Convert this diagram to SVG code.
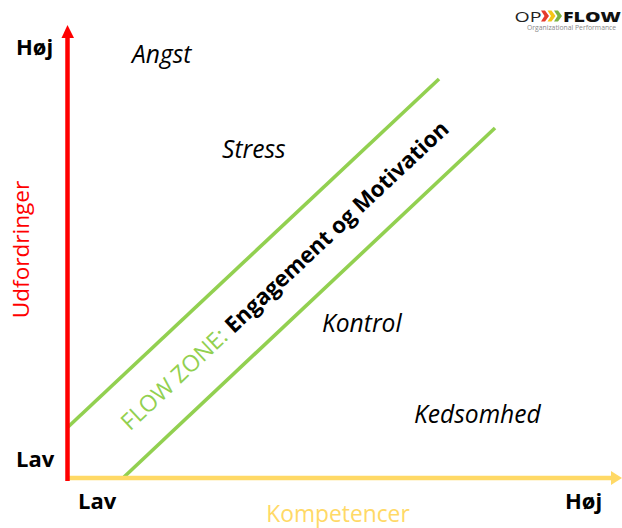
<svg xmlns="http://www.w3.org/2000/svg" width="622" height="528" viewBox="0 0 622 528">
<style>
text{font-family:"Open Sans","Liberation Sans",sans-serif}
.b{font-weight:700;font-size:22px;fill:#000}
.i{font-style:italic;font-size:24.600px;fill:#000}
.g{stroke:#92d050;stroke-width:3.600;fill:none}
</style>
<rect width="622" height="528" fill="#fff"/>
<g id="connectors">
<line class="g" x1="68" y1="427" x2="439" y2="79"/>
<line class="g" x1="124" y1="477" x2="495" y2="128"/>
<line x1="67" y1="478" x2="612" y2="478" stroke="#ffd966" stroke-width="4.500"/>
<polygon points="611,471 622,478 611,485" fill="#ffd966"/>
<line x1="67.500" y1="481" x2="67.500" y2="36" stroke="#ff0000" stroke-width="4.500"/>
<polygon points="61.500,38 67.500,25 74,38" fill="#ff0000"/>
</g>
<g id="axis-y"><text x="29" y="249.500" transform="rotate(-90 29 249.500)" text-anchor="middle" font-size="22.600" fill="#ff0000">Udfordringer</text></g>
<g id="axis-x"><text x="338" y="522" text-anchor="middle" font-size="22.800" fill="#ffd966">Kompetencer</text></g>
<g id="y-high"><text class="b" x="16" y="55">Høj</text></g>
<g id="y-low"><text class="b" x="16" y="467">Lav</text></g>
<g id="x-low"><text class="b" x="78" y="509">Lav</text></g>
<g id="x-high"><text class="b" x="565" y="509">Høj</text></g>
<g id="angst"><text class="i" x="132" y="63">Angst</text></g>
<g id="stress"><text class="i" x="222" y="158">Stress</text></g>
<g id="kontrol"><text class="i" x="322" y="332">Kontrol</text></g>
<g id="kedsomhed"><text class="i" x="414" y="423">Kedsomhed</text></g>
<g id="flow-zone"><text transform="translate(130 431.500) rotate(-43.200)" font-size="23" fill="#92d050">FLOW ZONE: <tspan font-size="22.200" font-weight="700" fill="#000">Engagement og Motivation</tspan></text></g>
<g id="logo">
<text x="514.500" y="21.500" font-size="14.500" textLength="27" lengthAdjust="spacingAndGlyphs" fill="#222">OP</text>
<polygon points="541,10.500 545,10.500 549,16 545,21.500 541,21.500 544.500,16" fill="#e53b2c"/>
<polygon points="547.500,10.500 551.500,10.500 555.500,16 551.500,21.500 547.500,21.500 551,16" fill="#f5c518"/>
<polygon points="554,10.500 558,10.500 562,16 558,21.500 554,21.500 557.500,16" fill="#7cb342"/>
<text x="563" y="21.500" font-size="14.500" font-weight="800" textLength="58" lengthAdjust="spacingAndGlyphs" fill="#111">FLOW</text>
<text x="527" y="30" font-size="6.800" fill="#888">Organizational Performance</text>
</g>
</svg>
